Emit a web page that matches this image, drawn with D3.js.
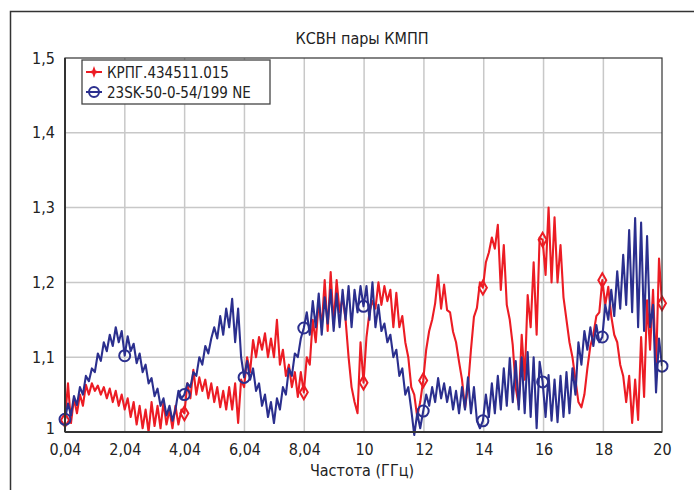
<!DOCTYPE html>
<html><head><meta charset="utf-8">
<script src="https://cdn.jsdelivr.net/npm/d3@7"></script>
<style>
html,body{margin:0;padding:0;background:#fff;}
svg text{font-family:"Liberation Sans Narrow","DejaVu Sans Condensed","Arial Narrow",sans-serif;fill:#222;}
</style></head>
<body><svg id="c" width="694" height="490"></svg>
<script>
const title = "КСВН пары КМПП";
const xTitle = "Частота (ГГц)";
const seriesNames = ["КРПГ.434511.015", "23SK-50-0-54/199 NE"];
const xTickValues = [0.04, 2.04, 4.04, 6.04, 8.04, 10.04, 12.04, 14.04, 16.04, 18.04, 20];
const xTickLabels = ["0,04","2,04","4,04","6,04","8,04","10","12","14","16","18","20"];
const yTickValues = [1, 1.1, 1.2, 1.3, 1.4, 1.5];
const yTickLabels = ["1","1,1","1,2","1,3","1,4","1,5"];
const fStart = 0.04, fEnd = 20, nPoints = 201;
const redMarkerIdx = [0, 40, 80, 100, 120, 140, 160, 180, 200];
const blueMarkerIdx = [0, 20, 40, 60, 80, 100, 120, 140, 160, 180, 200];

const redValues = [
1.016,1.065,1.012,1.045,1.025,1.05,1.035,1.063,1.05,1.065,
1.055,1.062,1.05,1.06,1.045,1.058,1.04,1.055,1.035,1.05,
1.03,1.045,1.02,1.04,1.01,1.035,1.005,1.03,1.0,1.04,
1.008,1.035,1.005,1.04,1.01,1.03,1.005,1.035,1.01,1.03,
1.025,1.065,1.045,1.083,1.05,1.073,1.055,1.07,1.045,1.065,
1.04,1.06,1.033,1.055,1.03,1.06,1.03,1.065,1.012,1.07,
1.06,1.1,1.08,1.123,1.1,1.127,1.11,1.132,1.1,1.125,
1.1,1.15,1.09,1.11,1.075,1.09,1.06,1.08,1.047,1.08,
1.053,1.1,1.09,1.15,1.12,1.175,1.14,1.203,1.135,1.214,
1.145,1.203,1.16,1.18,1.15,1.1,1.06,1.04,1.025,1.12,
1.066,1.127,1.16,1.175,1.165,1.2,1.17,1.195,1.175,1.19,
1.14,1.186,1.14,1.155,1.12,1.1,1.06,1.05,1.02,1.04,
1.069,1.11,1.135,1.15,1.172,1.21,1.165,1.197,1.163,1.16,
1.134,1.12,1.094,1.07,1.032,1.06,1.11,1.154,1.166,1.2,
1.193,1.227,1.24,1.26,1.245,1.277,1.19,1.25,1.17,1.15,
1.116,1.059,1.036,1.13,1.07,1.183,1.14,1.227,1.13,1.26,
1.257,1.21,1.3,1.2,1.287,1.2,1.25,1.18,1.15,1.12,
1.1,1.07,1.04,1.033,1.05,1.085,1.115,1.13,1.155,1.16,
1.203,1.17,1.194,1.155,1.13,1.12,1.09,1.075,1.04,1.075,
1.012,1.07,1.016,1.127,1.047,1.176,1.11,1.19,1.083,1.232,
1.172];

const blueValues = [
1.017,1.038,1.022,1.048,1.036,1.06,1.05,1.075,1.068,1.085,
1.08,1.105,1.095,1.12,1.108,1.13,1.115,1.14,1.12,1.135,
1.102,1.128,1.108,1.118,1.092,1.105,1.08,1.09,1.065,1.072,
1.048,1.058,1.035,1.045,1.022,1.035,1.015,1.03,1.055,1.045,
1.05,1.065,1.06,1.08,1.075,1.1,1.09,1.115,1.105,1.125,
1.14,1.125,1.155,1.13,1.165,1.14,1.178,1.12,1.165,1.1,
1.073,1.095,1.07,1.085,1.055,1.065,1.035,1.05,1.02,1.04,
1.012,1.045,1.03,1.06,1.05,1.085,1.075,1.105,1.1,1.125,
1.139,1.16,1.13,1.175,1.14,1.185,1.13,1.18,1.145,1.19,
1.135,1.185,1.14,1.19,1.15,1.195,1.14,1.19,1.16,1.195,
1.168,1.195,1.15,1.2,1.14,1.17,1.135,1.145,1.12,1.13,
1.1,1.11,1.075,1.085,1.05,1.06,1.03,0.996,1.025,1.005,
1.028,1.05,1.035,1.06,1.04,1.072,1.045,1.065,1.04,1.06,
1.03,1.055,1.025,1.06,1.03,1.073,1.025,1.06,1.015,1.005,
1.015,1.05,1.02,1.065,1.025,1.075,1.03,1.085,1.035,1.099,
1.04,1.095,1.03,1.1,1.025,1.107,1.02,1.1,1.005,1.094,
1.067,1.02,1.076,1.015,1.07,1.013,1.075,1.02,1.08,1.025,
1.085,1.05,1.12,1.09,1.135,1.11,1.14,1.115,1.143,1.12,
1.127,1.17,1.15,1.19,1.155,1.215,1.165,1.237,1.17,1.27,
1.16,1.286,1.14,1.28,1.135,1.262,1.14,1.17,1.053,1.125,
1.088];

const colors = ["#ec1c24", "#2b2f8e"];

const svg = d3.select("#c");
const m = {left: 65, right: 662, top: 58, bottom: 432};

const x = d3.scaleLinear().domain([fStart, fEnd]).range([m.left, m.right]);
const y = d3.scaleLinear().domain([1, 1.5]).range([m.bottom, m.top]);
const freq = d3.range(nPoints).map(i => fStart + i * (fEnd - fStart) / (nPoints - 1));
const fontFam = '"Liberation Sans Narrow","DejaVu Sans Condensed",sans-serif';

// outer frame
svg.append("rect").attr("x", 10.5).attr("y", 11.5).attr("width", 720).attr("height", 520)
  .attr("fill", "none").attr("stroke", "#333").attr("stroke-width", 1.5);

const clipId = "clipP";
svg.append("defs").append("clipPath").attr("id", clipId).append("rect")
  .attr("x", m.left).attr("y", m.top - 2).attr("width", m.right - m.left).attr("height", m.bottom - m.top + 12);

// grid
const grid = svg.append("g");
grid.selectAll("line.v").data(xTickValues.slice(1, -1)).join("line")
  .attr("x1", d => x(d)).attr("x2", d => x(d)).attr("y1", m.top).attr("y2", m.bottom)
  .attr("stroke", "#c8c8c8").attr("stroke-width", 1.5);
grid.selectAll("line.h").data(yTickValues.slice(1, -1)).join("line")
  .attr("x1", m.left).attr("x2", m.right).attr("y1", d => y(d)).attr("y2", d => y(d))
  .attr("stroke", "#c8c8c8").attr("stroke-width", 1.5);

// lines
const line = d3.line().x((d, i) => x(freq[i])).y(d => y(d));
const plot = svg.append("g").attr("clip-path", `url(#${clipId})`);
[redValues, blueValues].forEach((vals, k) => {
  plot.append("path").datum(vals).attr("d", line).attr("fill", "none")
    .attr("stroke", colors[k]).attr("stroke-width", 2.1).attr("stroke-linejoin", "round");
});

// markers
const diamond = d3.symbol().type(d3.symbolDiamond).size(55);
svg.append("g").selectAll("path").data(redMarkerIdx).join("path")
  .attr("d", diamond).attr("transform", i => `translate(${x(freq[i])},${y(redValues[i])})`)
  .attr("fill", "none").attr("stroke", colors[0]).attr("stroke-width", 2);
svg.append("g").selectAll("circle").data(blueMarkerIdx).join("circle")
  .attr("cx", i => x(freq[i])).attr("cy", i => y(blueValues[i])).attr("r", 5.5)
  .attr("fill", "none").attr("stroke", colors[1]).attr("stroke-width", 2);

// plot frame
svg.append("rect").attr("x", m.left).attr("y", m.top).attr("width", m.right - m.left).attr("height", m.bottom - m.top)
  .attr("fill", "none").attr("stroke", "#333").attr("stroke-width", 1.2);
svg.append("line").attr("x1", m.left).attr("x2", m.right).attr("y1", m.bottom).attr("y2", m.bottom)
  .attr("stroke", "#333").attr("stroke-width", 2.2);
svg.append("line").attr("x1", m.left).attr("x2", m.left).attr("y1", m.top).attr("y2", m.bottom)
  .attr("stroke", "#333").attr("stroke-width", 2);

// axes
const xAxis = d3.axisBottom(x).tickValues(xTickValues).tickFormat((d, i) => xTickLabels[i]).tickSize(0).tickPadding(12);
const gx = svg.append("g").attr("transform", `translate(0,${m.bottom})`).call(xAxis);
gx.select(".domain").remove();
gx.selectAll("text").attr("font-size", 16).attr("fill", "#222").style("font-family", fontFam);

const yAxis = d3.axisLeft(y).tickValues(yTickValues).tickFormat((d, i) => yTickLabels[i]).tickSize(0).tickPadding(10);
const gy = svg.append("g").attr("transform", `translate(${m.left},0)`).call(yAxis);
gy.select(".domain").remove();
gy.selectAll("text").attr("font-size", 16).attr("fill", "#222").style("font-family", fontFam);
gy.selectAll(".tick").filter(d => d === 1).select("text").attr("dy", "0.1em");

// titles
svg.append("text").attr("x", 362).attr("y", 44).attr("text-anchor", "middle").attr("font-size", 16).text(title);
svg.append("text").attr("x", 362).attr("y", 476).attr("text-anchor", "middle").attr("font-size", 16).text(xTitle);

// legend
const lg = svg.append("g");
lg.append("rect").attr("x", 82).attr("y", 60).attr("width", 188).attr("height", 44)
  .attr("fill", "#fff").attr("stroke", "#444").attr("stroke-width", 1.3);
const star = "M0,-6L1.6,-1.6L6,0L1.6,1.6L0,6L-1.6,1.6L-6,0L-1.6,-1.6Z";
seriesNames.forEach((name, k) => {
  const cy = 72 + k * 20;
  lg.append("line").attr("x1", 86).attr("x2", 102).attr("y1", cy).attr("y2", cy)
    .attr("stroke", colors[k]).attr("stroke-width", 2);
  if (k === 0) {
    lg.append("path").attr("d", star).attr("transform", `translate(94,${cy})`).attr("fill", colors[0]);
  } else {
    lg.append("circle").attr("cx", 94).attr("cy", cy).attr("r", 5).attr("fill", "none")
      .attr("stroke", colors[1]).attr("stroke-width", 2);
  }
  lg.append("text").attr("x", 107).attr("y", cy + 5.5).attr("font-size", 15).text(name);
});
</script></body></html>
